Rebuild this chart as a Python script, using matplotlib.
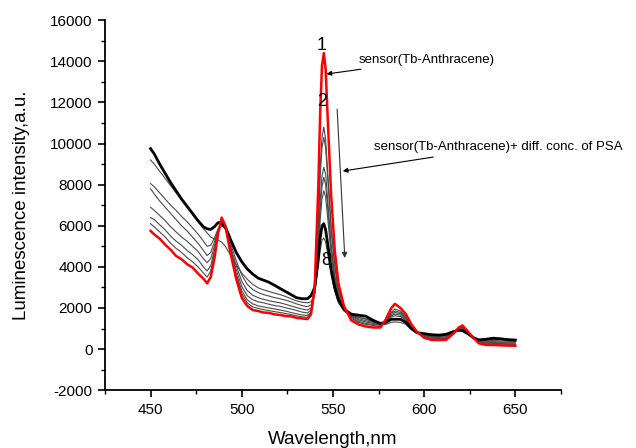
import matplotlib
matplotlib.use('Agg')
import matplotlib.pyplot as plt
from matplotlib.ticker import MultipleLocator

plt.rcParams['font.family'] = ['Liberation Sans', 'DejaVu Sans']
plt.rcParams['axes.unicode_minus'] = False

# wavelength grid (nm)
wl = [450, 452, 455, 458, 461, 464, 467, 470, 473, 476, 479, 481, 483, 485, 487, 489, 491,
      494, 497, 500, 503, 506, 509, 512, 515, 518, 521, 524, 527, 530, 533, 536, 538, 540,
      542, 543, 544, 545, 546, 547, 549, 551, 553, 556, 560, 564, 568, 572, 576, 579, 582,
      584, 587, 590, 593, 596, 600, 604, 608, 612, 616, 619, 621, 624, 627, 630, 634, 638,
      642, 646, 650]

# 1: sensor (Tb-Anthracene), red
s1 = [5750, 5580, 5370, 5080, 4830, 4530, 4370, 4130, 3970, 3680, 3420, 3200, 3500, 4400, 5600, 6400, 6000,
      4600, 3400, 2500, 2100, 1900, 1850, 1780, 1760, 1690, 1660, 1610, 1590, 1520, 1490, 1460, 1700, 3000,
      8000, 11500, 13800, 14400, 13600, 11500, 7500, 4800, 3200, 2100, 1400, 1200, 1100, 1050, 1050, 1450, 2000,
      2200, 2000, 1700, 1200, 850, 550, 450, 440, 450, 750, 1050, 1150, 850, 550, 280, 200, 200,
      180, 170, 160]

s2 = [6100, 5950, 5700, 5450, 5150, 4900, 4700, 4450, 4250, 4000, 3700, 3500, 3800, 4650, 5700, 6300, 5950,
      4700, 3550, 2700, 2250, 2050, 1980, 1920, 1870, 1820, 1780, 1730, 1680, 1620, 1570, 1550, 1750, 2800,
      6300, 8800, 10300, 10800, 10200, 8800, 6000, 4100, 2900, 2050, 1500, 1300, 1200, 1150, 1100, 1400, 1800,
      1950, 1850, 1600, 1150, 850, 600, 500, 500, 520, 780, 1050, 1100, 820, 560, 330, 260, 250,
      240, 230, 220]

s3 = [6400, 6300, 6050, 5800, 5500, 5250, 5050, 4800, 4600, 4350, 4000, 3800, 4050, 4800, 5700, 6200, 5900,
      4750, 3650, 2850, 2400, 2200, 2100, 2050, 2000, 1950, 1900, 1850, 1780, 1720, 1660, 1640, 1800, 2800,
      6000, 8400, 9800, 10300, 9800, 8500, 5800, 4000, 2850, 2050, 1550, 1350, 1250, 1200, 1150, 1400, 1750,
      1850, 1780, 1550, 1120, 850, 620, 530, 520, 550, 800, 1030, 1080, 820, 580, 360, 290, 280,
      270, 260, 250]

s4 = [6900, 6750, 6500, 6250, 5950, 5700, 5450, 5250, 5000, 4750, 4400, 4200, 4400, 5000, 5750, 6100, 5850,
      4850, 3850, 3050, 2600, 2400, 2300, 2250, 2180, 2120, 2080, 2010, 1950, 1880, 1800, 1760, 1900, 2700,
      5300, 7200, 8400, 8850, 8500, 7400, 5100, 3600, 2650, 2000, 1600, 1420, 1320, 1250, 1180, 1380, 1680,
      1780, 1720, 1500, 1100, 850, 650, 570, 560, 590, 820, 1000, 1050, 820, 600, 400, 330, 320,
      310, 300, 290]

s5 = [7800, 7550, 7200, 6900, 6600, 6300, 6000, 5750, 5450, 5150, 4800, 4550, 4700, 5200, 5800, 6050, 5850,
      4950, 4050, 3300, 2850, 2620, 2500, 2420, 2350, 2300, 2250, 2180, 2100, 2020, 1950, 1900, 2000, 2700,
      5000, 6800, 7900, 8350, 8000, 7000, 4900, 3500, 2600, 2000, 1620, 1480, 1380, 1300, 1200, 1350, 1620,
      1700, 1650, 1450, 1080, 830, 680, 610, 600, 630, 830, 980, 1000, 800, 600, 420, 360, 360,
      350, 340, 330]

s6 = [8050, 7900, 7600, 7300, 7000, 6750, 6450, 6200, 5900, 5600, 5250, 5000, 5050, 5400, 5850, 6000, 5850,
      5100, 4300, 3600, 3150, 2900, 2750, 2650, 2580, 2500, 2450, 2380, 2300, 2200, 2120, 2060, 2150, 2750,
      4700, 6300, 7300, 7700, 7400, 6500, 4600, 3300, 2500, 1980, 1650, 1550, 1450, 1330, 1220, 1320, 1560,
      1620, 1580, 1400, 1050, 820, 700, 640, 630, 660, 840, 960, 960, 780, 580, 430, 400, 420,
      400, 380, 370]

s7 = [9200, 9000, 8650, 8300, 7950, 7600, 7250, 6900, 6550, 6200, 5850, 5650, 5450, 5350, 5300, 5200, 5000,
      4550, 4100, 3700, 3400, 3150, 2980, 2880, 2800, 2720, 2650, 2560, 2450, 2350, 2280, 2250, 2300, 2700,
      4000, 4800, 5300, 5400, 5200, 4700, 3600, 2800, 2250, 1850, 1600, 1550, 1480, 1350, 1200, 1200, 1300,
      1320, 1300, 1200, 950, 780, 720, 680, 660, 690, 820, 900, 880, 720, 540, 440, 440, 480,
      460, 430, 420]

# 8: highest PSA concentration, thick black
s8 = [9750, 9500, 9000, 8550, 8100, 7700, 7300, 6950, 6600, 6250, 5950, 5850, 5820, 5950, 6150, 6150, 5950,
      5300, 4700, 4250, 3900, 3650, 3450, 3350, 3250, 3100, 2950, 2800, 2650, 2500, 2450, 2450, 2600, 3000,
      4500, 5400, 6000, 6100, 5800, 5200, 3900, 3000, 2400, 1950, 1700, 1650, 1600, 1400, 1250, 1300, 1450,
      1450, 1450, 1300, 1000, 800, 750, 700, 680, 720, 850, 920, 900, 750, 550, 450, 480, 530,
      500, 460, 440]

gray_series = [s2, s3, s4, s5, s6, s7]

fig = plt.figure(figsize=(6.36, 4.48), dpi=100)
ax = fig.add_axes([0.165, 0.129, 0.717, 0.826])

for s in gray_series:
    ax.plot(wl, s, color='#4a4a4a', lw=0.8)
ax.plot(wl, s8, color='black', lw=2.0)
ax.plot(wl, s1, color='red', lw=1.8)

ax.set_xlim(425, 675)
ax.set_ylim(-2000, 16000)
ax.xaxis.set_major_locator(MultipleLocator(50))
ax.xaxis.set_minor_locator(MultipleLocator(25))
ax.yaxis.set_major_locator(MultipleLocator(2000))
ax.yaxis.set_minor_locator(MultipleLocator(1000))
ax.spines['top'].set_visible(False)
ax.spines['right'].set_visible(False)
for sp in ('left', 'bottom'):
    ax.spines[sp].set_linewidth(1.3)
ax.tick_params(which='major', direction='out', length=5, width=1.2, labelsize=11, pad=4)
ax.tick_params(which='minor', direction='out', length=3, width=1.0)

ax.set_xlabel('Wavelength,nm', fontsize=13.5, labelpad=10)
ax.set_ylabel('Luminescence intensity,a.u.', fontsize=13.5, labelpad=14)

# curve numbers
ax.text(544, 14750, '1', fontsize=13, ha='center', va='center')
ax.text(544, 12050, '2', fontsize=13, ha='center', va='center')
ax.text(546.5, 4330, '8', fontsize=13, ha='center', va='center')

# annotations
ax.annotate('sensor(Tb-Anthracene)', xy=(546.5, 13380), xytext=(564, 14060),
            fontsize=9.5, va='center', ha='left',
            arrowprops=dict(arrowstyle='-|>', color='black', lw=0.8, mutation_scale=7,
                            shrinkA=2, shrinkB=0))
ax.annotate('sensor(Tb-Anthracene)+ diff. conc. of PSA', xy=(555.4, 8660), xytext=(572.5, 9830),
            fontsize=9.5, va='center', ha='left',
            arrowprops=dict(arrowstyle='-|>', color='black', lw=0.8, mutation_scale=7,
                            shrinkA=6, shrinkB=0))
ax.annotate('', xy=(556.5, 4430), xytext=(552.3, 11670),
            arrowprops=dict(arrowstyle='-|>', color='#333333', lw=0.8, mutation_scale=8,
                            shrinkA=0, shrinkB=0))

fig.savefig('out.png', dpi=100)
